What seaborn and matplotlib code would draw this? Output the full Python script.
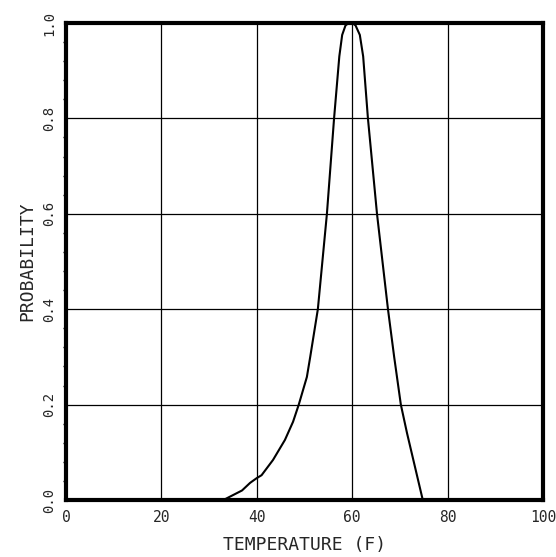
import numpy as np
import pandas as pd
import seaborn as sns
import matplotlib.pyplot as plt
from matplotlib.ticker import MultipleLocator

# Curve
temperature = [33.0, 36.9, 38.6, 40.0, 41.0, 43.4, 45.9, 47.6, 48.8, 50.5, 51.2,
               52.8, 54.7, 56.2, 57.3, 57.9, 58.6, 59.3, 60.0, 60.7, 61.6, 62.3,
               63.3, 65.2, 67.5, 68.8, 70.2, 71.5, 74.8]
probability = [0.0, 0.02, 0.036, 0.046, 0.052, 0.084, 0.126, 0.164, 0.200, 0.258, 0.300,
               0.400, 0.600, 0.800, 0.930, 0.975, 0.995, 1.000, 1.000, 0.995, 0.975, 0.930,
               0.800, 0.600, 0.400, 0.300, 0.200, 0.140, 0.0]
x_ticks = [0, 20, 40, 60, 80, 100]
y_ticks = [0.0, 0.2, 0.4, 0.6, 0.8, 1.0]

df = pd.DataFrame({'T': temperature, 'P': probability})

sns.set_style('white')
plt.rcParams['font.family'] = ['DejaVu Sans Mono']

fig = plt.figure(figsize=(5.56, 5.57), dpi=100)
ax = fig.add_axes([0.1187, 0.1023, 0.8579, 0.8564])

sns.lineplot(data=df, x='T', y='P', color='black', linewidth=1.5, ax=ax, sort=False)

ax.set_xlim(0, 100)
ax.set_ylim(0, 1.0)
ax.set_xticks(x_ticks)
ax.set_yticks(y_ticks)
ax.set_xticklabels([str(t) for t in x_ticks], fontsize=10.5)
ax.set_yticklabels(['%.1f' % t for t in y_ticks], fontsize=10, rotation=90, va='center')
ax.yaxis.set_minor_locator(MultipleLocator(0.04))
ax.tick_params(axis='both', which='major', direction='out', length=4, width=1, color='black', pad=3)
ax.tick_params(axis='y', which='minor', direction='out', length=2.5, width=1, color='black', left=True)

ax.grid(True, color='black', linewidth=0.9)
ax.set_axisbelow(True)
for s in ax.spines.values():
    s.set_visible(True)
    s.set_color('black')
    s.set_linewidth(3)

ax.set_xlabel('TEMPERATURE (F)', fontsize=13, labelpad=8)
ax.set_ylabel('PROBABILITY', fontsize=13, labelpad=4)

fig.savefig('out.png', dpi=100)
